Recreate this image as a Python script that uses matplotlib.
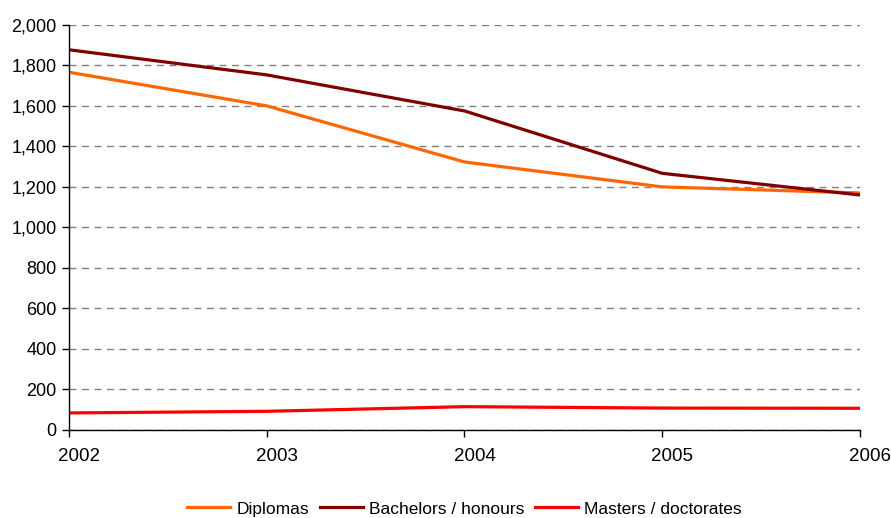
import matplotlib.pyplot as plt
import matplotlib.transforms as mtransforms

years = [2002, 2003, 2004, 2005, 2006]
diplomas = [1766, 1600, 1323, 1200, 1170]
bachelors = [1877, 1753, 1575, 1267, 1160]
masters = [84, 92, 115, 108, 107]

plt.rcParams['font.family'] = ['Liberation Sans', 'DejaVu Sans']

fig = plt.figure(figsize=(8.91, 5.18), dpi=100)
ax = fig.add_axes([0.0774, 0.170, 0.8878, 0.782])

ax.plot(years, diplomas, color='#ff6600', lw=2.3, label='Diplomas')
ax.plot(years, bachelors, color='#800000', lw=2.3, label='Bachelors / honours')
ax.plot(years, masters, color='#ff0000', lw=2.3, label='Masters / doctorates')

ax.set_xlim(2002, 2006)
ax.set_ylim(0, 2000)
ax.set_xticks(years)
ax.set_yticks(range(0, 2001, 200))
ax.set_yticklabels([f'{v:,}' for v in range(0, 2001, 200)])
ax.yaxis.grid(True, color='#808080', linestyle=(0, (5, 4)), lw=1)
ax.set_axisbelow(True)

for s in ['top', 'right']:
    ax.spines[s].set_visible(False)
for s in ['left', 'bottom']:
    ax.spines[s].set_color('black')
    ax.spines[s].set_linewidth(1)

ax.tick_params(axis='both', direction='out', length=5, width=1)
ax.tick_params(axis='y', labelsize=13, pad=4)
ax.tick_params(axis='x', labelsize=13.5, pad=8)

# year labels sit slightly right of their ticks
shift = mtransforms.ScaledTranslation(0.10, 0, fig.dpi_scale_trans)
for lbl in ax.get_xticklabels():
    lbl.set_transform(lbl.get_transform() + shift)

ax.legend(loc='center', bbox_to_anchor=(0.5, -0.195), ncol=3, frameon=False,
          fontsize=12.5, handlelength=2.5, columnspacing=0.6, handletextpad=0.35)

fig.savefig('out.png', dpi=100)
